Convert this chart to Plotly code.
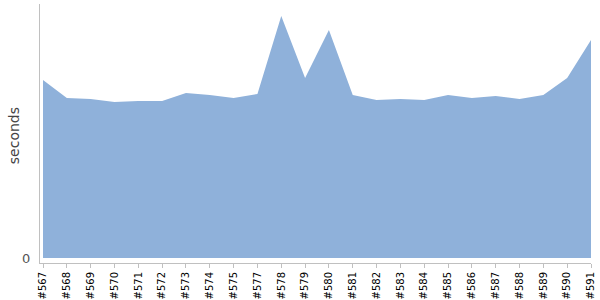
import plotly.graph_objects as go

builds = ["#567", "#568", "#569", "#570", "#571", "#572", "#573", "#574", "#575", "#577",
          "#578", "#579", "#580", "#581", "#582", "#583", "#584", "#585", "#586", "#587",
          "#588", "#589", "#590", "#591"]
seconds = [178, 160, 159, 156, 157, 157, 165, 163, 160, 164,
           242, 180, 228, 163, 158, 159, 158, 163, 160, 162,
           159, 163, 180, 218]

idx = list(range(len(builds)))

fig = go.Figure()
fig.add_trace(go.Scatter(
    x=idx, y=seconds, mode="lines", fill="tozeroy",
    line=dict(width=0, color="#8fb1da"), fillcolor="#8fb1da",
    hoverinfo="skip", showlegend=False,
))

fig.update_layout(
    width=600, height=300,
    margin=dict(l=40, r=9, t=4, b=37, autoexpand=False),
    paper_bgcolor="white", plot_bgcolor="white",
    font=dict(family="DejaVu Sans"),
    xaxis=dict(
        range=[-0.126, len(builds) - 1], automargin=False,
        tickmode="array", tickvals=idx, ticktext=builds,
        tickangle=-90, tickfont=dict(size=10, color="black"),
        showgrid=False, zeroline=False,
        showline=True, linecolor="#c0c0c0", linewidth=1,
        ticks="outside", ticklen=4, tickcolor="#c0c0c0",
    ),
    yaxis=dict(
        range=[-5, 254], automargin=False,
        tickmode="array", tickvals=[0], ticktext=["0"],
        tickfont=dict(size=13, color="#555555"),
        showgrid=False, zeroline=False,
        showline=True, linecolor="#c0c0c0", linewidth=1,
        ticks="", ticklabelstandoff=6,
    ),
    annotations=[dict(
        text="seconds", textangle=-90, showarrow=False,
        xref="paper", yref="paper", x=-0.047, y=0.49,
        xanchor="center", yanchor="middle",
        font=dict(size=14, color="#444444", family="DejaVu Sans"),
    )],
)

fig.write_html("out.html")
